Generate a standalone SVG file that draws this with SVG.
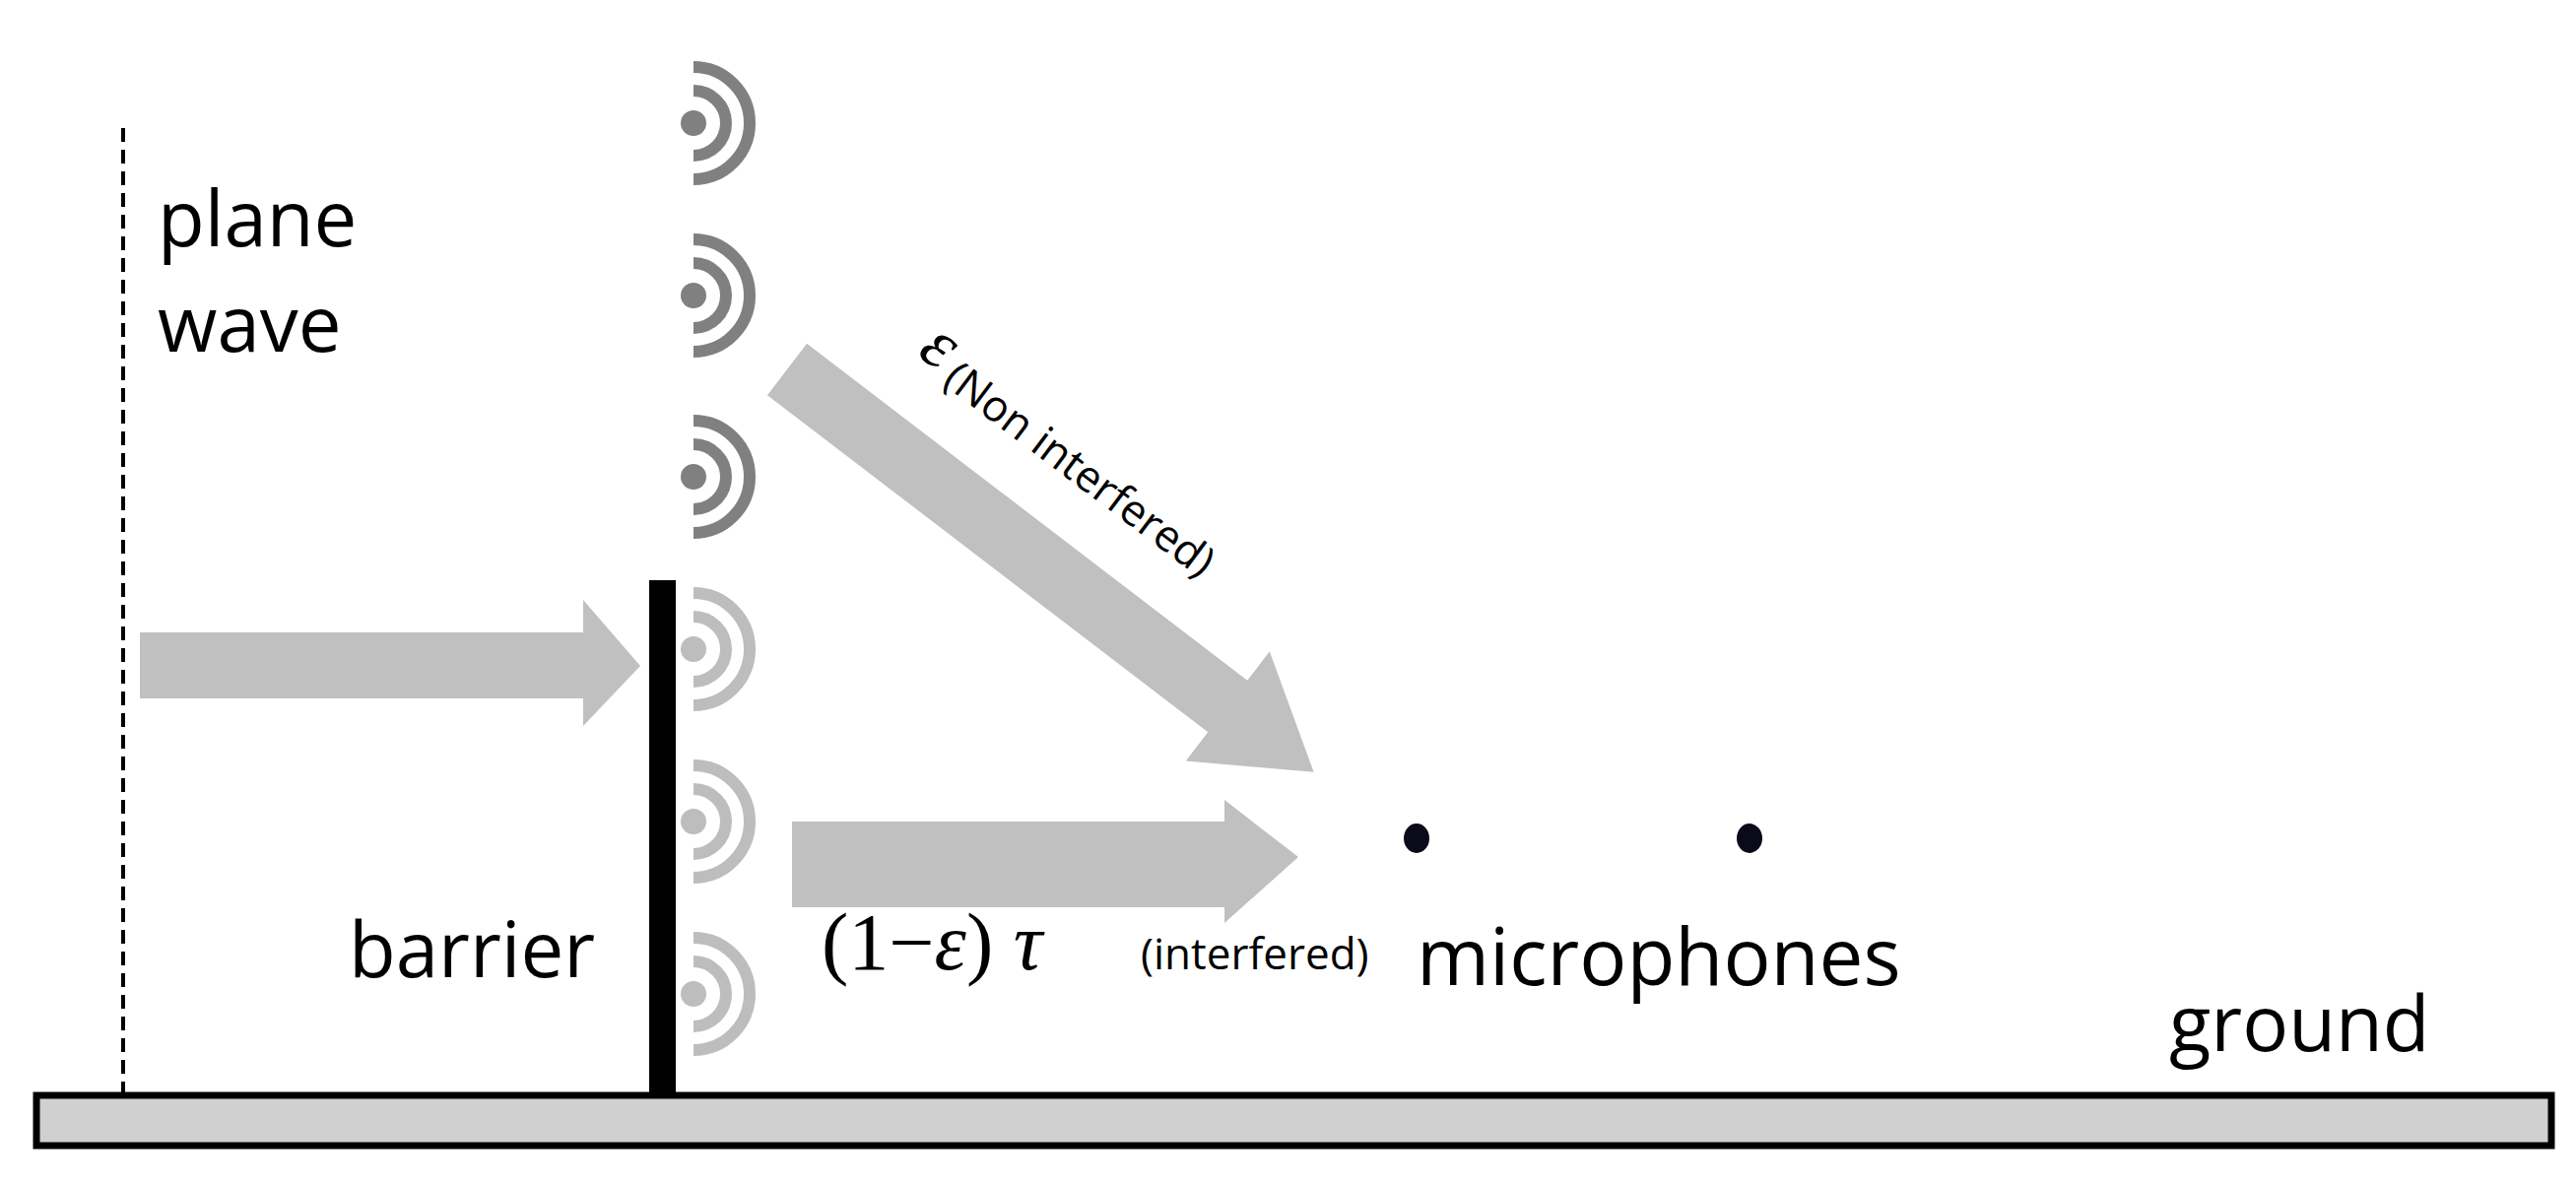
<svg xmlns="http://www.w3.org/2000/svg" width="2615" height="1204" viewBox="0 0 2615 1204">
<style>
.lbl{font-family:"Open Sans","Liberation Sans",sans-serif;fill:#000}
.math{font-family:"Liberation Serif",serif;fill:#000}
.arrow{fill:#c0c0c0}
.wd{fill:#808080}.wa{fill:none;stroke:#808080;stroke-width:12}
.ld{fill:#bdbdbd}.la{fill:none;stroke:#bdbdbd;stroke-width:12}
</style>
<defs>
<g id="wdark"><circle cx="0" cy="0" r="13" class="wd"/><path d="M0,-33 A33,33 0 0 1 0,33" class="wa"/><path d="M0,-57 A57,57 0 0 1 0,57" class="wa"/></g>
<g id="wlight"><circle cx="0" cy="0" r="13" class="ld"/><path d="M0,-33 A33,33 0 0 1 0,33" class="la"/><path d="M0,-57 A57,57 0 0 1 0,57" class="la"/></g>
</defs>
<rect width="2615" height="1204" fill="#fff"/>
<g id="ground"><rect x="37" y="1112" width="2553" height="51" fill="#d0d0d0" stroke="#000" stroke-width="7"/></g>
<g id="planewave"><line x1="125" y1="130" x2="125" y2="1109" stroke="#000" stroke-width="4" stroke-dasharray="14,8"/>
<text class="lbl" x="160" y="250" font-size="78">plane</text><text class="lbl" x="160" y="357" font-size="78">wave</text></g>
<g id="sources">
<use href="#wdark" x="704" y="125"/><use href="#wdark" x="704" y="300"/><use href="#wdark" x="704" y="484"/>
<use href="#wlight" x="704" y="659"/><use href="#wlight" x="704" y="834"/><use href="#wlight" x="704" y="1009"/>
</g>
<g id="barrier"><rect x="659" y="589" width="27" height="523" fill="#000"/><text class="lbl" x="354" y="992" font-size="78">barrier</text></g>
<g id="connectors">
<polygon class="arrow" points="142,642 592,642 592,609 650,676 592,737 592,709 142,709"/>
<polygon class="arrow" points="804,834 1243,834 1243,812 1318,870 1243,937 1243,921 804,921"/>
<g transform="translate(799,375) rotate(37.4)"><polygon class="arrow" points="0,-33 563,-33 563,-70 673,0 563,70 563,33 0,33"/></g>
</g>
<g id="labels">
<g transform="translate(930,360) rotate(37)"><text class="math" x="0" y="0" font-size="72" font-style="italic">ε</text><text class="lbl" x="38" y="8" font-size="44">(Non interfered)</text></g>
<text class="math" x="834" y="984" font-size="82">(1−<tspan font-style="italic">ε</tspan>) <tspan font-style="italic">τ</tspan></text>
<text class="lbl" x="1158" y="984" font-size="44">(interfered)</text>
</g>
<g id="microphones"><ellipse cx="1438" cy="851" rx="13" ry="15" fill="#0a0a1a"/><ellipse cx="1776" cy="851" rx="13" ry="15" fill="#0a0a1a"/>
<text class="lbl" x="1438" y="1000" font-size="80">microphones</text></g>
<g id="groundlabel"><text class="lbl" x="2202" y="1067" font-size="78">ground</text></g>
</svg>
